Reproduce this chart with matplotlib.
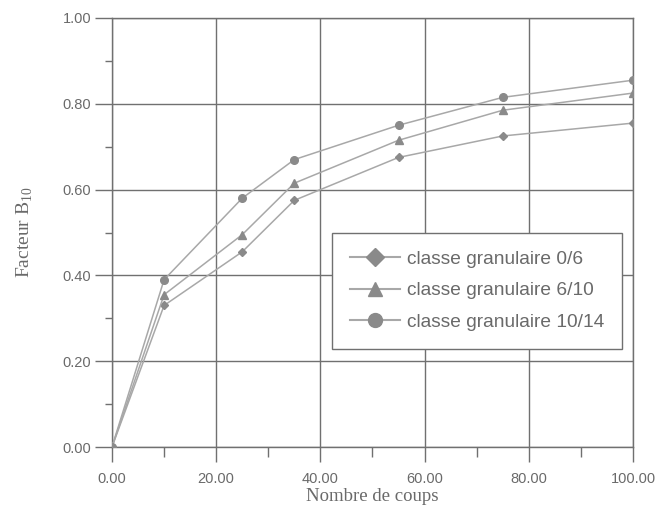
import matplotlib.pyplot as plt
from matplotlib.lines import Line2D
from matplotlib.ticker import MultipleLocator, FormatStrFormatter

plt.rcParams['mathtext.fontset'] = 'custom'
plt.rcParams['mathtext.rm'] = 'Liberation Serif'

# nombre de coups et facteur B10 par classe granulaire
coups = [0, 10, 25, 35, 55, 75, 100]
b10_0_6 = [0.0, 0.33, 0.455, 0.575, 0.675, 0.725, 0.755]
b10_6_10 = [0.0, 0.355, 0.495, 0.615, 0.715, 0.785, 0.825]
b10_10_14 = [0.0, 0.39, 0.58, 0.67, 0.75, 0.815, 0.855]
labels = ['classe granulaire 0/6', 'classe granulaire 6/10', 'classe granulaire 10/14']
markers = ['D', '^', 'o']

line_col = '#a8a8a8'
mark_col = '#8a8a8a'
grid_col = '#707070'
text_col = '#6a6a6a'

fig = plt.figure(figsize=(6.56, 5.07), dpi=100)
ax = fig.add_axes([0.1707, 0.1183, 0.7942, 0.8462])

for ys, m in zip([b10_0_6, b10_6_10, b10_10_14], markers):
    ms = 4.5 if m == 'D' else 5.5
    ax.plot(coups, ys, color=line_col, lw=1.1, marker=m, ms=ms,
            markerfacecolor=mark_col, markeredgecolor=mark_col, zorder=3)

ax.set_xlim(0, 100)
ax.set_ylim(0, 1.0)
ax.xaxis.set_major_locator(MultipleLocator(20))
ax.xaxis.set_minor_locator(MultipleLocator(10))
ax.yaxis.set_major_locator(MultipleLocator(0.2))
ax.yaxis.set_minor_locator(MultipleLocator(0.1))
ax.xaxis.set_major_formatter(FormatStrFormatter('%.2f'))
ax.yaxis.set_major_formatter(FormatStrFormatter('%.2f'))

ax.grid(True, which='major', color=grid_col, lw=1.0)
for s in ax.spines.values():
    s.set_color(grid_col)
    s.set_linewidth(1.0)

ax.tick_params(which='both', width=1.0, color=grid_col, labelsize=10.5,
               labelcolor=text_col)
ax.tick_params(axis='x', which='major', length=11, pad=7)
ax.tick_params(axis='x', which='minor', length=7.5)
ax.tick_params(axis='y', which='major', length=12, pad=3)
ax.tick_params(axis='y', which='minor', length=5)
for lab in ax.get_xticklabels() + ax.get_yticklabels():
    lab.set_family('Liberation Sans')

ax.set_xlabel('Nombre de coups', family='Liberation Serif', fontsize=13.5,
              color=text_col, labelpad=1.5)
ax.set_ylabel('Facteur B$_{10}$', family='Liberation Serif', fontsize=14,
              color=text_col, labelpad=20)

# légende avec des marqueurs plus gros que sur les courbes
handles = [Line2D([0], [0], color=line_col, lw=1.5, marker=m,
                  ms=(9 if m == 'D' else 10), markerfacecolor=mark_col,
                  markeredgecolor=mark_col) for m in markers]
leg = ax.legend(handles, labels, loc='upper left', bbox_to_anchor=(0.422, 0.500),
                borderaxespad=0, fancybox=False, framealpha=1, edgecolor=grid_col,
                prop={'family': 'Liberation Sans', 'size': 13.8},
                handlelength=2.6, handletextpad=0.35, labelspacing=0.72,
                borderpad=0.95)
leg.get_frame().set_linewidth(1.0)
for t in leg.get_texts():
    t.set_color(text_col)
leg.set_zorder(5)

fig.savefig('out.png', dpi=100)
